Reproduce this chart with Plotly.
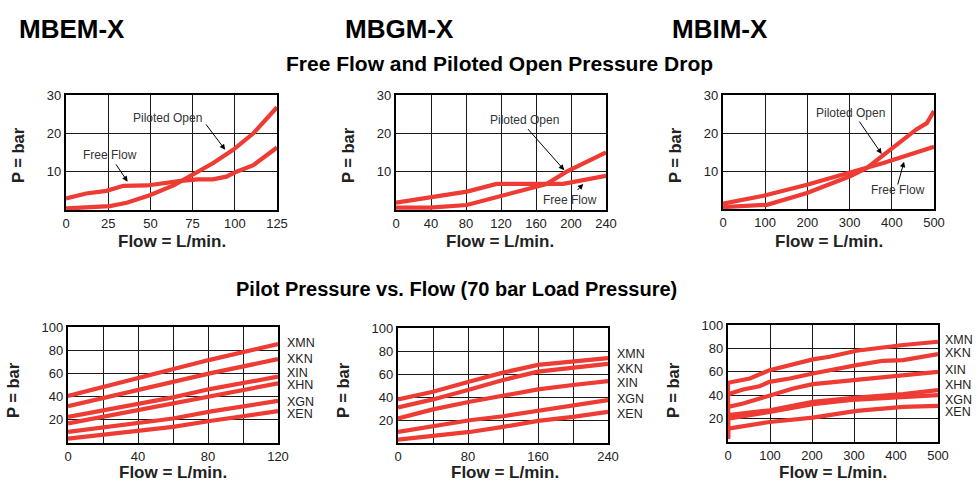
import plotly.graph_objects as go

W, H = 979, 483
RED = "#EE3B34"
FONT = "Liberation Sans, Arial, sans-serif"

# ---------------- Data: Free Flow and Piloted Open Pressure Drop ----------------
mbem_ff_x = [0, 12, 24, 34, 48, 58, 68, 78, 87, 95, 101, 111, 125]
mbem_ff_y = [3.0, 4.3, 5.0, 6.3, 6.4, 7.1, 7.6, 8.0, 8.0, 8.7, 10.0, 11.7, 16.3]
mbem_po_x = [0, 26, 36, 50, 64, 76, 87, 99, 111, 125]
mbem_po_y = [0.4, 1.0, 1.9, 3.9, 6.5, 9.6, 12.2, 15.7, 20.0, 26.8]

mbgm_ff_x = [0, 43, 81, 115, 191, 240]
mbgm_ff_y = [1.9, 3.3, 4.8, 6.8, 6.8, 8.9]
mbgm_po_x = [0, 39, 81, 115, 153, 172, 195, 240]
mbgm_po_y = [0.6, 0.6, 1.3, 3.3, 5.7, 6.8, 10.0, 15.0]

mbim_ff_x = [0, 96, 199, 301, 380, 500]
mbim_ff_y = [1.4, 3.5, 6.4, 9.6, 12.1, 16.4]
mbim_po_x = [0, 104, 199, 301, 341, 396, 459, 483, 500]
mbim_po_y = [0.5, 1.1, 4.2, 8.6, 10.8, 15.6, 21.0, 22.6, 25.8]

# ---------------- Data: Pilot Pressure vs. Flow ----------------
pilot_labels_e = ["XMN", "XKN", "XIN", "XHN", "XGN", "XEN"]
mbem_px = [0, 60, 81, 120]
mbem_pilot = {
    "XMN": [40.5, 63.6, 71.7, 85.3],
    "XKN": [31.8, 52.9, 60.0, 72.3],
    "XIN": [22.5, 39.3, 46.5, 57.2],
    "XHN": [16.8, 34.1, 41.0, 51.4],
    "XGN": [9.5, 21.1, 27.0, 36.4],
    "XEN": [3.8, 13.9, 19.0, 27.5],
}
mbem_label_y = [86, 72.4, 60.3, 50, 35.3, 25]

pilot_labels_g = ["XMN", "XKN", "XIN", "XGN", "XEN"]
mbgm_px = [0, 40, 82, 120, 160, 200, 240]
mbgm_pilot = {
    "XMN": [37.9, 44.6, 53.4, 61.2, 67.9, 70.8, 73.8],
    "XKN": [30.9, 37.9, 46.6, 54.8, 62.1, 65.0, 68.8],
    "XIN": [21.3, 29.2, 35.9, 40.8, 46.6, 50.4, 53.9],
    "XGN": [9.6, 14.6, 19.8, 23.3, 28.0, 32.9, 37.3],
    "XEN": [2.9, 5.8, 9.6, 14.0, 19.2, 22.7, 27.1],
}
mbgm_label_y = [77.4, 64.3, 52.2, 38.3, 25.2]

pilot_labels_i = ["XMN", "XKN", "XIN", "XHN", "XGN", "XEN"]
mbim_pilot_x = {
    "XMN": [0, 0, 52, 99, 202, 242, 306, 369, 417, 500],
    "XKN": [0, 0, 36, 75, 99, 147, 202, 258, 306, 369, 417, 500],
    "XIN": [0, 0, 36, 75, 107, 155, 202, 258, 306, 369, 417, 500],
    "XHN": [0, 0, 99, 202, 306, 417, 500],
    "XGN": [0, 0, 99, 202, 306, 417, 500],
    "XEN": [0, 0, 99, 202, 306, 417, 500],
}
mbim_pilot_y = {
    "XMN": [3, 50.6, 54.3, 61.4, 70.6, 72.9, 78.0, 80.9, 82.9, 85.7],
    "XKN": [3, 40.9, 44.9, 47.7, 51.4, 54.3, 58.6, 62.9, 65.7, 69.4, 70.0, 75.1],
    "XIN": [3, 30.0, 32.9, 37.1, 41.4, 45.7, 49.4, 51.4, 53.7, 55.7, 57.1, 60.0],
    "XHN": [3, 22.9, 27.1, 34.3, 38.0, 40.9, 44.3],
    "XGN": [3, 20.0, 25.7, 32.3, 36.3, 38.6, 40.0],
    "XEN": [3, 11.4, 17.1, 20.9, 26.6, 30.0, 30.9],
}
mbim_label_y = [87.2, 76, 61.5, 48.4, 35.9, 26.0]

titles = ["MBEM-X", "MBGM-X", "MBIM-X"]
section_titles = ["Free Flow and Piloted Open Pressure Drop",
                  "Pilot Pressure vs. Flow (70 bar Load Pressure)"]

# ---------------- Layout geometry (pixels) ----------------
boxes = [  # left, right, top, bottom
    (66, 277, 95, 210), (396, 606, 95, 210), (723, 934, 95, 209),
    (68, 278, 327, 443), (398, 608, 328, 443), (728, 938, 325, 442),
]

def xd(l, r):
    return [l / W, r / W]

def yd(t, b):
    return [1 - b / H, 1 - t / H]

fig = go.Figure()

def line(x, y, k):
    fig.add_trace(go.Scatter(x=x, y=y, mode="lines", xaxis=f"x{k}", yaxis=f"y{k}",
                             line=dict(color=RED, width=4.2), showlegend=False,
                             hoverinfo="skip"))

line(mbem_ff_x, mbem_ff_y, 1)
line(mbem_po_x, mbem_po_y, 1)
line(mbgm_ff_x, mbgm_ff_y, 2)
line(mbgm_po_x, mbgm_po_y, 2)
line(mbim_ff_x, mbim_ff_y, 3)
line(mbim_po_x, mbim_po_y, 3)
for name in pilot_labels_e:
    line(mbem_px, mbem_pilot[name], 4)
for name in pilot_labels_g:
    line(mbgm_px, mbgm_pilot[name], 5)
for name in pilot_labels_i:
    line(mbim_pilot_x[name], mbim_pilot_y[name], 6)

tick_font = dict(family=FONT, size=13, color="#222")
axis_common = dict(showline=True, mirror=True, linecolor="black", linewidth=2.2,
                   showgrid=True, gridcolor="#1a1a1a", gridwidth=1.3, zeroline=False,
                   ticks="", tickfont=tick_font, fixedrange=True, automargin=False)

x_specs = [
    dict(range=[0, 125], tickvals=[0, 25, 50, 75, 100, 125]),
    dict(range=[0, 240], tickvals=[0, 40, 80, 120, 160, 200, 240]),
    dict(range=[0, 500], tickvals=[0, 100, 200, 300, 400, 500]),
    dict(range=[0, 120], tickvals=[0, 40, 80, 120],
         minor=dict(tickvals=[20, 60, 100], showgrid=True, gridcolor="#1a1a1a", gridwidth=1.3, ticks="")),
    dict(range=[0, 240], tickvals=[0, 80, 160, 240],
         minor=dict(tickvals=[40, 120, 200], showgrid=True, gridcolor="#1a1a1a", gridwidth=1.3, ticks="")),
    dict(range=[0, 500], tickvals=[0, 100, 200, 300, 400, 500]),
]
lay = {}
for i, (l, r, t, b) in enumerate(boxes):
    k = i + 1
    xs = dict(axis_common, domain=xd(l, r), anchor=f"y{k}", **x_specs[i])
    if i < 3:
        ys = dict(axis_common, domain=yd(t, b), anchor=f"x{k}", range=[0, 30], tickvals=[10, 20, 30])
    else:
        ys = dict(axis_common, domain=yd(t, b), anchor=f"x{k}", range=[0, 100], tickvals=[20, 40, 60, 80, 100])
    lay["xaxis" if k == 1 else f"xaxis{k}"] = xs
    lay["yaxis" if k == 1 else f"yaxis{k}"] = ys

ann = []
# big titles
for tx, x in zip(titles, [17, 343, 670]):
    ann.append(dict(text=f"<b>{tx}</b>", x=x / W, y=1 - 29 / H, xref="paper", yref="paper",
                    xanchor="left", yanchor="middle", showarrow=False,
                    font=dict(family=FONT, size=26, color="black")))
ann.append(dict(text=f"<b>{section_titles[0]}</b>", x=499.5 / W, y=1 - 64 / H, xref="paper", yref="paper",
                xanchor="center", yanchor="middle", showarrow=False,
                font=dict(family=FONT, size=21, color="black")))
ann.append(dict(text=f"<b>{section_titles[1]}</b>", x=456.5 / W, y=1 - 289 / H, xref="paper", yref="paper",
                xanchor="center", yanchor="middle", showarrow=False,
                font=dict(family=FONT, size=20, color="black")))

# axis titles
p_pos = [(18, 155), (348, 155), (675, 155), (13, 390), (343, 390), (673, 390)]
for (px, py) in p_pos:
    ann.append(dict(text="<b>P = bar</b>", x=px / W, y=1 - py / H, xref="paper", yref="paper",
                    xanchor="center", yanchor="middle", textangle=-90, showarrow=False,
                    font=dict(family=FONT, size=16.5, color="#222")))
f_pos = [(172, 241), (500, 241), (829, 241), (173, 472), (505, 472), (833, 472)]
for (px, py) in f_pos:
    ann.append(dict(text="<b>Flow = L/min.</b>", x=px / W, y=1 - py / H, xref="paper", yref="paper",
                    xanchor="center", yanchor="middle", showarrow=False,
                    font=dict(family=FONT, size=17, color="#222")))

lab_font = dict(family=FONT, size=12, color="#333")
# curve labels (text) in data coords
texts = [
    ("Piloted Open", 60.4, 24.0, 1), ("Free Flow", 26.1, 14.3, 1),
    ("Piloted Open", 147.4, 23.5, 2), ("Free Flow", 198.9, 2.6, 2),
    ("Piloted Open", 301, 25.3, 3), ("Free Flow", 415, 5.0, 3),
]
for tx, x, y, k in texts:
    ann.append(dict(text=tx, x=x, y=y, xref=f"x{k}", yref=f"y{k}", showarrow=False,
                    xanchor="center", yanchor="middle", font=lab_font))
arrows = [
    (94.3, 15.7, 82.3, 22.7, 1), (36.5, 7.4, 29, 12.3, 1),
    (192.3, 10.4, 149.3, 21.5, 2), (214, 6.8, 205.7, 4.8, 2),
    (376, 14.5, 320.7, 23.4, 3), (429, 12.45, 413, 6.05, 3),
]
for x, y, axv, ayv, k in arrows:
    ann.append(dict(text="", x=x, y=y, ax=axv, ay=ayv, xref=f"x{k}", yref=f"y{k}",
                    axref=f"x{k}", ayref=f"y{k}", showarrow=True, arrowhead=2,
                    arrowsize=1.1, arrowwidth=1, arrowcolor="black", standoff=0))

# pilot curve labels
lab2 = dict(family=FONT, size=12.5, color="#222")
for names, ys, k, xmax, sh in [(pilot_labels_e, mbem_label_y, 4, 120, 7),
                               (pilot_labels_g, mbgm_label_y, 5, 240, 7),
                               (pilot_labels_i, mbim_label_y, 6, 500, 5)]:
    for n, y in zip(names, ys):
        ann.append(dict(text=n, x=xmax, y=y, xref=f"x{k}", yref=f"y{k}", xanchor="left",
                        yanchor="middle", xshift=sh, showarrow=False, font=lab2))

fig.update_layout(template="none", width=W, height=H, margin=dict(l=0, r=0, t=0, b=0, pad=0),
                  paper_bgcolor="white", plot_bgcolor="white",
                  font=dict(family=FONT), annotations=ann, showlegend=False, **lay)

fig.write_html("out.html", config={"displayModeBar": False},
               post_script="document.body.style.margin='0';document.body.style.padding='0';"
                           "document.body.style.overflow='hidden';")
